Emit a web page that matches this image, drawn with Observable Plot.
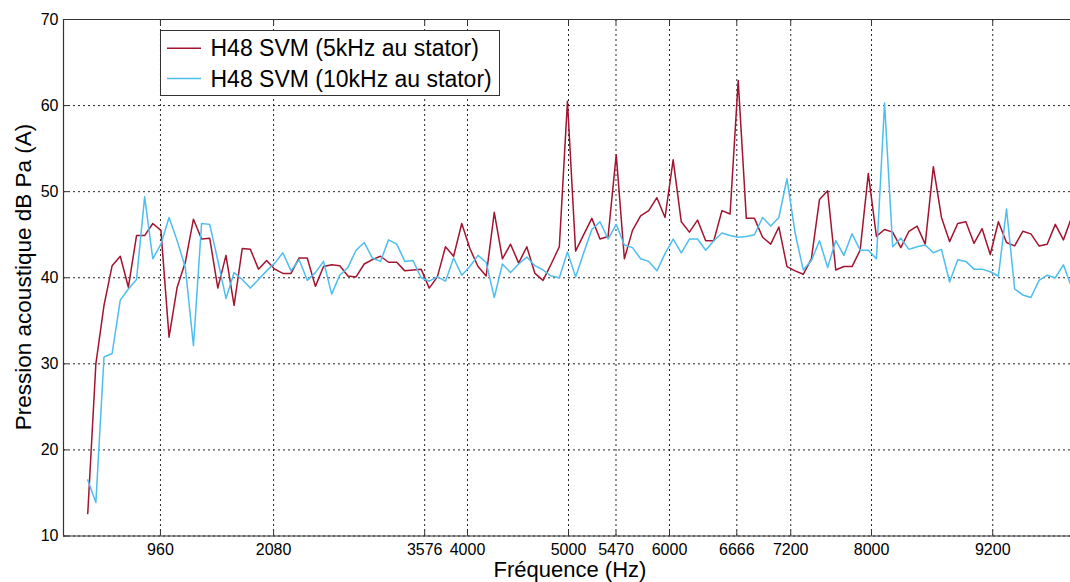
<!DOCTYPE html>
<html><head><meta charset="utf-8">
<script src="https://cdn.jsdelivr.net/npm/d3@7"></script>
<script src="https://cdn.jsdelivr.net/npm/@observablehq/plot@0.6"></script>
<style>
body{margin:0;background:#fff;}
#chart{width:1070px;height:582px;overflow:hidden;position:relative}
svg text{font-family:"Liberation Sans",Arial,sans-serif}
</style></head><body><div id="chart"></div>
<script>
// sampling grid of the spectrum (Hz)
const startFreq = 240;
const stepFreq = 80.5;

// H48 SVM (5kHz au stator)
const svm5k = [12.6,30.0,36.8,41.4,42.5,38.9,44.9,44.9,46.3,45.5,
  33.1,38.9,41.8,46.8,44.5,44.6,38.8,42.6,36.8,43.4,
  43.3,41.0,42.0,41.0,40.5,40.5,42.3,42.3,39.0,41.3,
  41.5,41.4,40.2,40.1,41.6,42.1,42.5,41.8,41.8,40.8,
  40.9,41.0,38.8,40.1,43.6,42.5,46.3,43.4,41.3,40.2,
  47.6,42.2,43.9,41.7,43.6,40.5,39.7,41.6,43.6,60.5,
  43.1,45.0,46.9,44.5,44.8,54.3,42.2,45.5,47.2,47.8,
  49.3,47.0,53.7,46.5,45.3,46.7,44.3,44.3,47.8,47.4,
  62.9,46.9,46.9,44.7,43.9,45.9,41.3,40.8,40.4,42.2,
  49.1,50.1,40.9,41.3,41.3,43.2,52.1,44.8,45.6,45.3,
  43.5,45.4,46.0,43.9,52.9,47.0,44.2,46.3,46.5,44.0,
  45.7,42.7,46.5,44.1,43.7,45.4,45.1,43.7,43.9,46.2,
  44.4,47.0];

// H48 SVM (10kHz au stator)
const svm10k = [16.5,13.9,30.8,31.2,37.4,38.7,39.8,49.4,42.2,43.9,
  47.0,44.3,41.2,32.1,46.3,46.2,42.0,37.6,40.6,39.8,
  38.8,39.8,40.8,41.7,42.9,40.8,42.1,39.7,40.6,41.9,
  38.1,40.3,41.2,43.2,44.1,42.3,41.9,44.4,43.9,41.9,
  42.0,40.0,39.6,40.1,39.6,42.3,40.3,41.3,42.6,41.8,
  37.7,41.6,40.6,41.6,42.4,41.4,40.9,40.2,40.0,43.0,
  40.1,42.9,45.6,46.5,44.5,46.2,43.8,43.5,42.2,41.9,
  40.8,42.8,44.5,42.9,44.5,44.5,43.2,44.3,45.2,44.9,
  44.7,44.8,45.0,47.0,46.0,47.0,51.5,45.2,40.9,42.0,
  44.3,41.2,44.3,42.6,45.1,43.2,43.2,42.2,60.3,43.6,
  44.6,43.3,43.6,43.8,42.9,43.3,39.5,42.1,41.9,41.0,
  41.0,40.7,40.2,48.0,38.7,38.0,37.7,39.7,40.3,40.0,
  41.5,38.9];

const xTickValues = [960,2080,3576,4000,5000,5470,6000,6666,7200,8000,9200];
const yTickValues = [10,20,30,40,50,60,70];
const seriesNames = ["H48 SVM (5kHz au stator)","H48 SVM (10kHz au stator)"];
const seriesColors = ["#A2142F","#4DBEEE"];

const rows = [];
[svm5k, svm10k].forEach((arr, k) => arr.forEach((v, i) => rows.push({f: startFreq + stepFreq * i, v, s: seriesNames[k]})));

const W = 1070, H = 582, mL = 63, mR = 0, mT = 19, mB = 46.5;
const plot = Plot.plot({
  width: W, height: H, marginLeft: mL, marginRight: mR, marginTop: mT, marginBottom: mB,
  style: {background: "white", fontFamily: "Liberation Sans, Arial, sans-serif", fontSize: "16px", color: "black", overflow: "visible"},
  x: {domain: [0, 9970], label: null},
  y: {domain: [10, 70], label: null},
  color: {domain: seriesNames, range: seriesColors},
  marks: [
    Plot.gridX({ticks: xTickValues, stroke: "#000", strokeOpacity: 0.85, strokeDasharray: "2,3", strokeWidth: 1}),
    Plot.gridY({ticks: yTickValues, stroke: "#000", strokeOpacity: 0.85, strokeDasharray: "2,3", strokeWidth: 1}),
    Plot.ruleY([10, 70], {stroke: "#333", strokeWidth: 1.2}),
    Plot.ruleX([0], {stroke: "#333", strokeWidth: 1.2}),
    Plot.tickX(xTickValues, {x: d => d, insetTop: H - mT - mB - 5, stroke: "#333"}),
    Plot.tickX(xTickValues, {x: d => d, insetBottom: H - mT - mB - 5, stroke: "#333"}),
    Plot.tickY(yTickValues, {y: d => d, insetRight: W - mL - mR - 5, stroke: "#333"}),
    Plot.axisX({ticks: xTickValues, tickSize: 0, tickPadding: 8, fontSize: 16, label: null, tickFormat: d => String(d)}),
    Plot.axisY({ticks: yTickValues, tickSize: 0, tickPadding: 5, fontSize: 16, label: null, tickFormat: d => String(d)}),
    Plot.line(rows, {x: "f", y: "v", stroke: "s", z: "s", strokeWidth: 1.5})
  ]
});
document.getElementById("chart").appendChild(plot);

const svg = d3.select(plot);
const fam = "Liberation Sans, Arial, sans-serif";
svg.append("text").attr("x", 570).attr("y", 577).attr("text-anchor", "middle")
  .attr("font-size", 22).attr("font-family", fam).attr("fill", "#000").text("Fréquence (Hz)");
svg.append("text").attr("transform", "translate(23,277) rotate(-90)").attr("text-anchor", "middle")
  .attr("dy", "0.35em").attr("font-size", 22.5).attr("font-family", fam).attr("fill", "#000")
  .text("Pression acoustique dB Pa (A)");

const lg = svg.append("g");
lg.append("rect").attr("x", 160.5).attr("y", 30.5).attr("width", 339).attr("height", 65)
  .attr("fill", "#fff").attr("stroke", "#333").attr("stroke-width", 1);
seriesNames.forEach((name, k) => {
  const cy = 48.2 + k * 30.3;
  lg.append("line").attr("x1", 167).attr("x2", 201).attr("y1", cy).attr("y2", cy)
    .attr("stroke", seriesColors[k]).attr("stroke-width", 1.5);
  lg.append("text").attr("x", 210.5).attr("y", cy).attr("dy", "0.35em").attr("text-anchor", "start")
    .attr("font-size", 23).attr("font-family", fam).attr("fill", "#000").text(name);
});
</script></body></html>
